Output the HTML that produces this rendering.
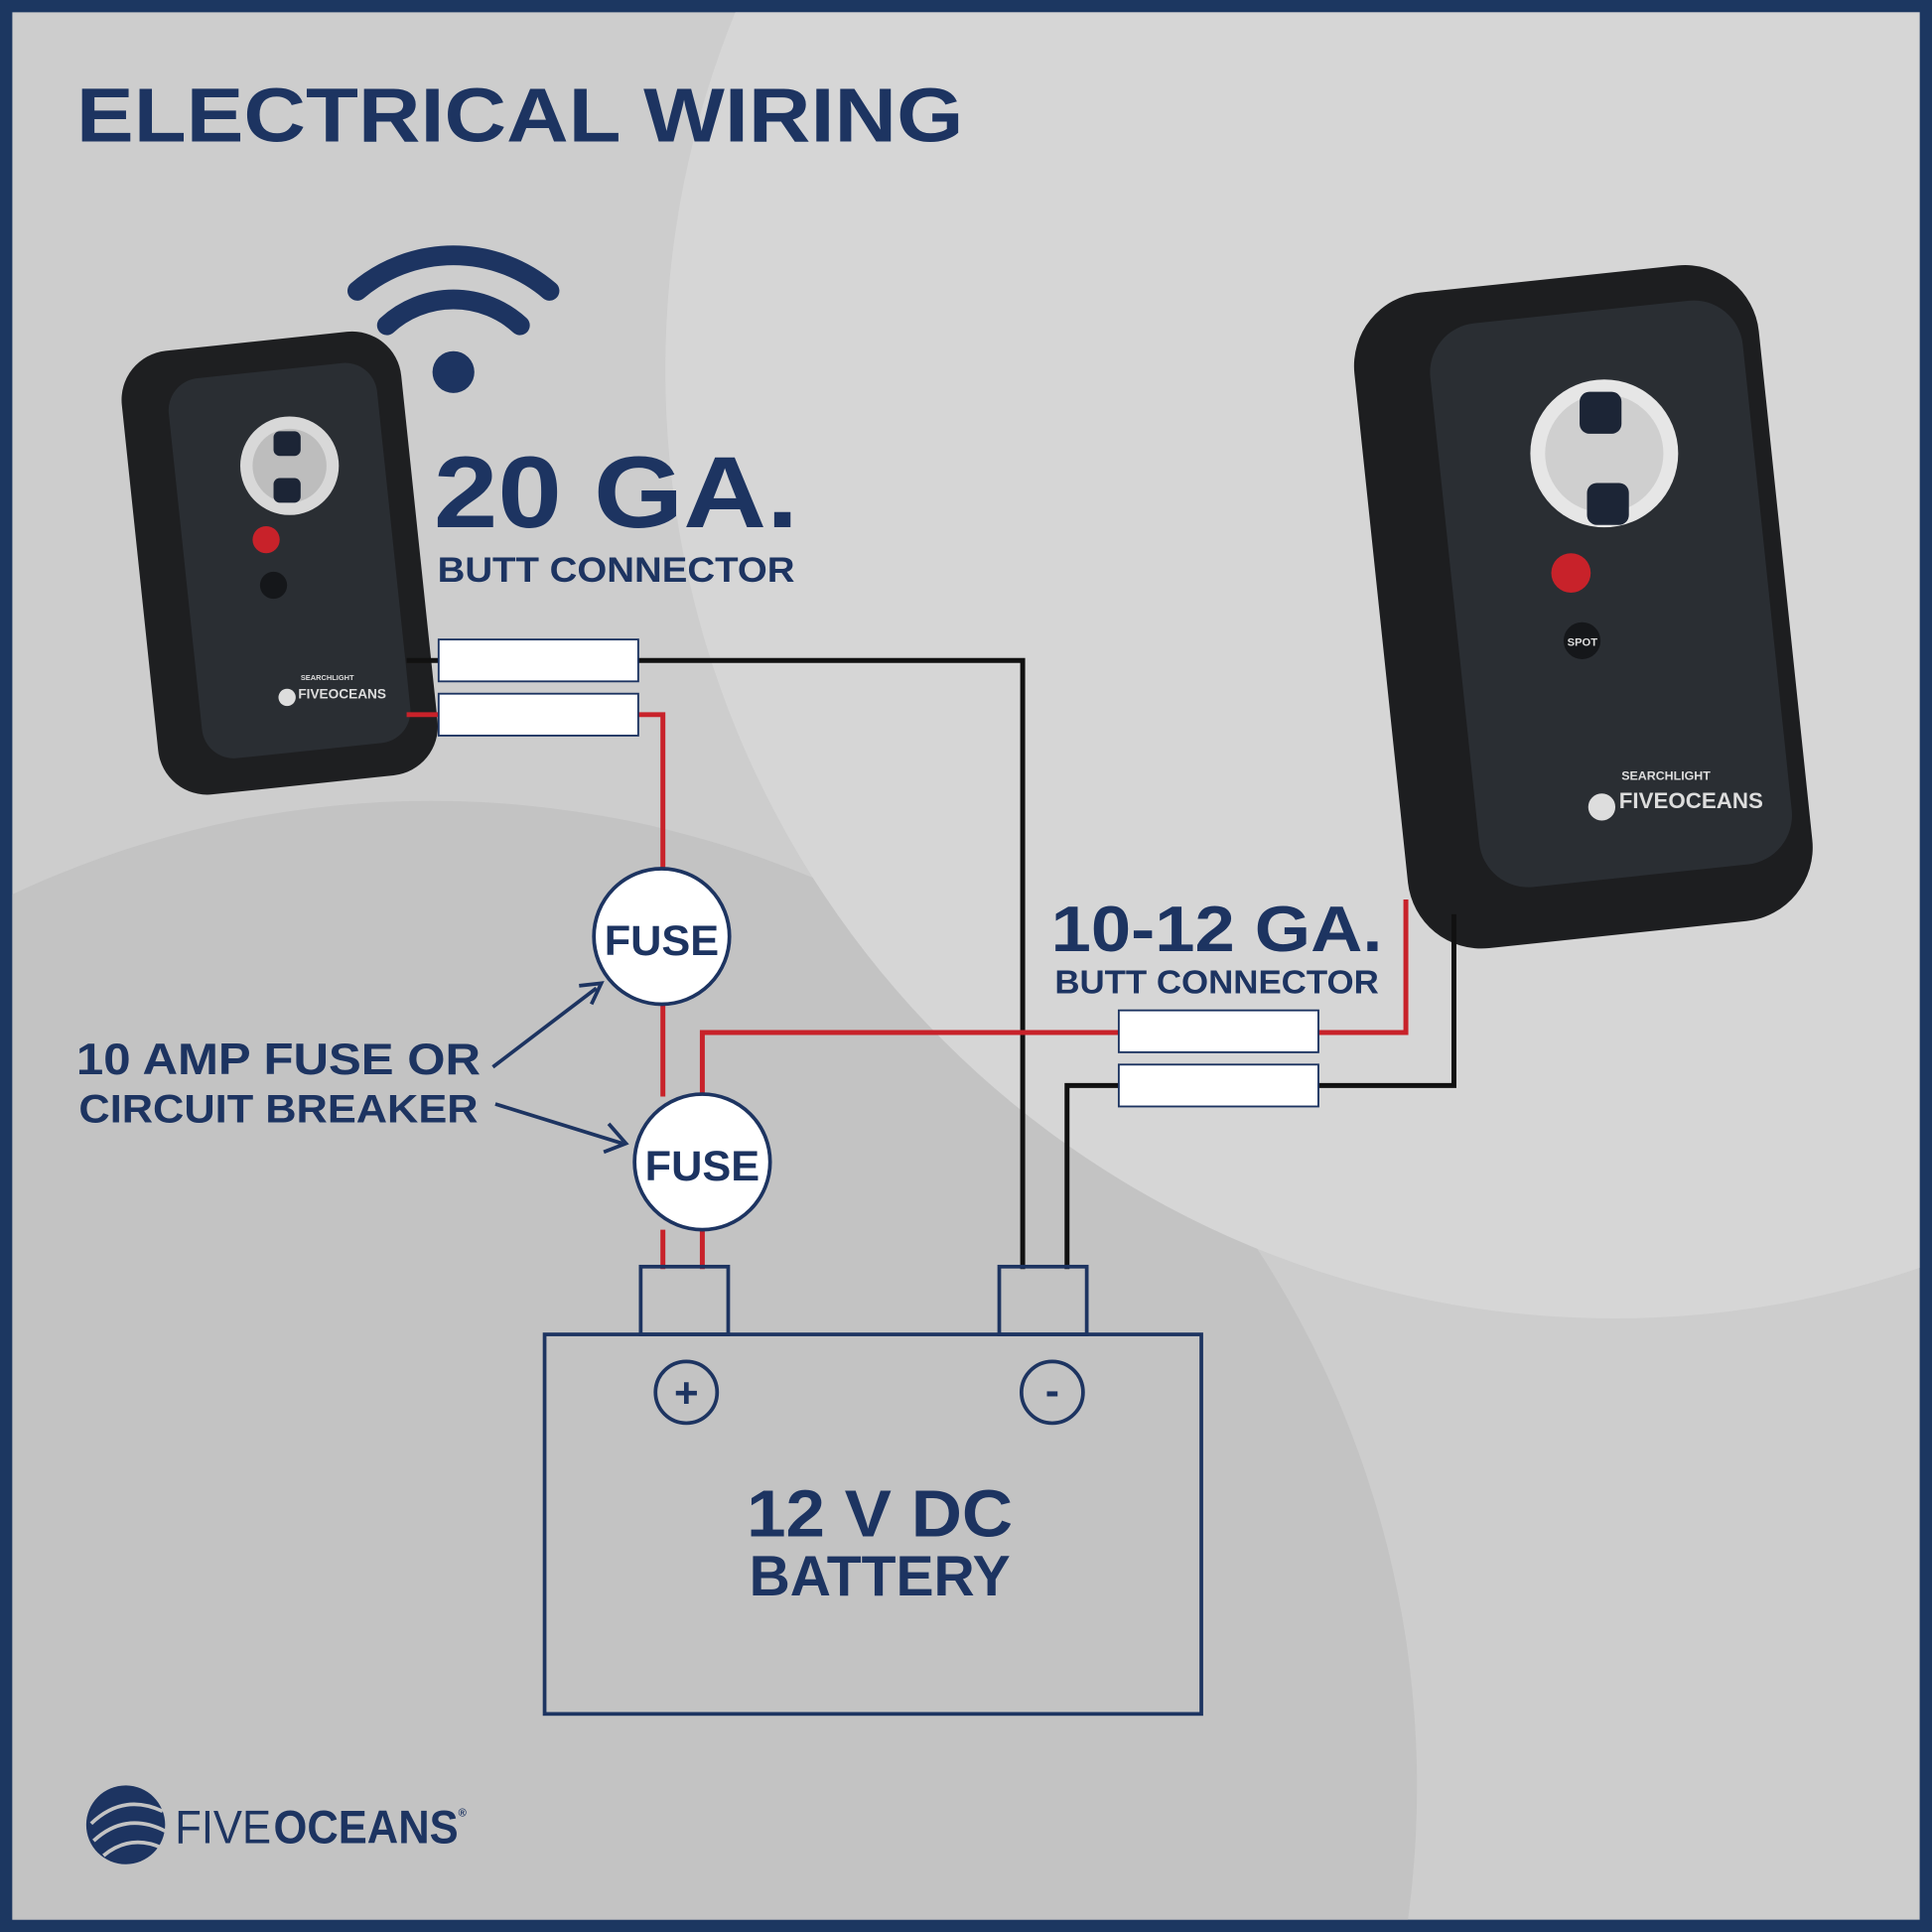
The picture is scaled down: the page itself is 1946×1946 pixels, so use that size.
<!DOCTYPE html>
<html><head><meta charset="utf-8"><style>
html,body{margin:0;padding:0;background:#cbcbcb;width:1946px;height:1946px;overflow:hidden}
svg{display:block}
text{font-family:"Liberation Sans",sans-serif;font-weight:bold;fill:#1d3461}
</style></head><body>
<svg width="1946" height="1946" viewBox="0 0 1568 1568" xmlns="http://www.w3.org/2000/svg">
<defs>
<clipPath id="c"><rect x="10" y="10" width="1548" height="1548"/></clipPath>
</defs>
<rect width="1568" height="1568" fill="#1c3761"/>
<g clip-path="url(#c)">
<rect x="0" y="0" width="1568" height="1568" fill="#cdcdcd"/>
<circle cx="350" cy="1450" r="800" fill="#c3c3c3"/>
<circle cx="1310" cy="300" r="770" fill="#d6d6d6"/>
</g>
<text x="62" y="115" font-size="62" textLength="720" lengthAdjust="spacingAndGlyphs">ELECTRICAL WIRING</text>

<g fill="none" stroke="#1d3461" stroke-width="16" stroke-linecap="round">
<path d="M290 236 A120 120 0 0 1 446 236"/>
<path d="M314 264 A80 80 0 0 1 422 264"/>
</g>
<circle cx="368" cy="302" r="17" fill="#1d3461"/>

<text x="352" y="428" font-size="82" textLength="296" lengthAdjust="spacingAndGlyphs">20 GA.</text>
<text x="355" y="472" font-size="28" textLength="290" lengthAdjust="spacingAndGlyphs">BUTT CONNECTOR</text>

<g>
<rect x="113" y="276" width="228" height="362" rx="40" fill="#1e1f21" transform="rotate(-6 227 457)"/>
<rect x="150" y="300" width="170" height="310" rx="26" fill="#2a2e33" transform="rotate(-6 235 455)"/>
<circle cx="235" cy="378" r="40" fill="#d8d8d8"/>
<circle cx="235" cy="378" r="30" fill="#bdbdbd"/>
<rect x="222" y="350" width="22" height="20" rx="5" fill="#1c2536"/>
<rect x="222" y="388" width="22" height="20" rx="5" fill="#1c2536"/>
<circle cx="216" cy="438" r="11" fill="#c8222a"/>
<circle cx="222" cy="475" r="11" fill="#15171a"/>
<text x="244" y="552" font-size="6" style="fill:#ddd">SEARCHLIGHT</text>
<text x="242" y="567" font-size="11" style="fill:#ddd">FIVEOCEANS</text>
<circle cx="233" cy="566" r="7" fill="#ddd"/>
</g>

<g>
<rect x="1120" y="225" width="330" height="535" rx="60" fill="#1d1e20" transform="rotate(-6 1285 492)"/>
<rect x="1180" y="252" width="255" height="460" rx="40" fill="#2a2e33" transform="rotate(-6 1307 482)"/>
<circle cx="1302" cy="368" r="60" fill="#e6e6e6"/>
<circle cx="1302" cy="368" r="48" fill="#cfcfcf"/>
<rect x="1282" y="318" width="34" height="34" rx="8" fill="#1c2536"/>
<rect x="1288" y="392" width="34" height="34" rx="8" fill="#1c2536"/>
<circle cx="1275" cy="465" r="16" fill="#c8222a"/>
<circle cx="1284" cy="520" r="15" fill="#15171a"/>
<text x="1272" y="524" font-size="9" style="fill:#ddd">SPOT</text>
<text x="1316" y="633" font-size="10" style="fill:#ddd">SEARCHLIGHT</text>
<text x="1314" y="656" font-size="18" style="fill:#ddd">FIVEOCEANS</text>
<circle cx="1300" cy="655" r="11" fill="#ddd"/>
</g>

<g fill="none" stroke-width="4">
<path d="M330 536 H830 V1030" stroke="#111"/>
<path d="M330 580 H538 V705 M538 815 V890 M538 998 V1030" stroke="#c8222a"/>
<path d="M570 998 V1030 M570 888 V838 H1141 V730" stroke="#c8222a"/>
<path d="M866 1030 V881 H1180 V742" stroke="#111"/>
</g>
<g fill="#fff" stroke="#1d3461" stroke-width="1.5">
<rect x="356" y="519" width="162" height="34"/>
<rect x="356" y="563" width="162" height="34"/>
<rect x="908" y="820" width="162" height="34"/>
<rect x="908" y="864" width="162" height="34"/>
</g>
<g fill="#fff" stroke="#1d3461" stroke-width="3">
<circle cx="537" cy="760" r="55"/>
<circle cx="570" cy="943" r="55"/>
</g>
<text x="537" y="775" font-size="34" text-anchor="middle" textLength="93" lengthAdjust="spacingAndGlyphs">FUSE</text>
<text x="570" y="958" font-size="34" text-anchor="middle" textLength="93" lengthAdjust="spacingAndGlyphs">FUSE</text>

<text x="853" y="772" font-size="52" textLength="269" lengthAdjust="spacingAndGlyphs">10-12 GA.</text>
<text x="856" y="806" font-size="27" textLength="263" lengthAdjust="spacingAndGlyphs">BUTT CONNECTOR</text>

<text x="62" y="872" font-size="36" textLength="328" lengthAdjust="spacingAndGlyphs">10 AMP FUSE OR</text>
<text x="64" y="911" font-size="32" textLength="324" lengthAdjust="spacingAndGlyphs">CIRCUIT BREAKER</text>
<g stroke="#1d3461" stroke-width="3" fill="none">
<path d="M400 866 L484 802"/>
<path d="M470 800 L488 798 L480 815"/>
<path d="M402 896 L505 928"/>
<path d="M494 912 L508 928 L490 935"/>
</g>

<g fill="none" stroke="#1d3461" stroke-width="3">
<rect x="442" y="1083" width="533" height="308"/>
<rect x="520" y="1028" width="71" height="55"/>
<rect x="811" y="1028" width="71" height="55"/>
<circle cx="557" cy="1130" r="25"/>
<circle cx="854" cy="1130" r="25"/>
</g>
<text x="557" y="1142" font-size="34" text-anchor="middle">+</text>
<text x="854" y="1140" font-size="34" text-anchor="middle">-</text>
<text x="606" y="1247" font-size="54" textLength="216" lengthAdjust="spacingAndGlyphs">12 V DC</text>
<text x="608" y="1295" font-size="46" textLength="212" lengthAdjust="spacingAndGlyphs">BATTERY</text>

<circle cx="102" cy="1481" r="32" fill="#1d3461"/>
<g fill="none" stroke="#c3c3c3" stroke-width="3">
<path d="M74 1480 Q100 1455 132 1470"/>
<path d="M76 1494 Q102 1470 134 1486"/>
<path d="M84 1506 Q106 1488 132 1500"/>
</g>
<text x="142" y="1496" font-size="38" style="font-weight:normal" textLength="78" lengthAdjust="spacingAndGlyphs">FIVE</text>
<text x="222" y="1496" font-size="38" textLength="150" lengthAdjust="spacingAndGlyphs">OCEANS</text>
<text x="372" y="1474" font-size="9">®</text>
</svg>
</body></html>
